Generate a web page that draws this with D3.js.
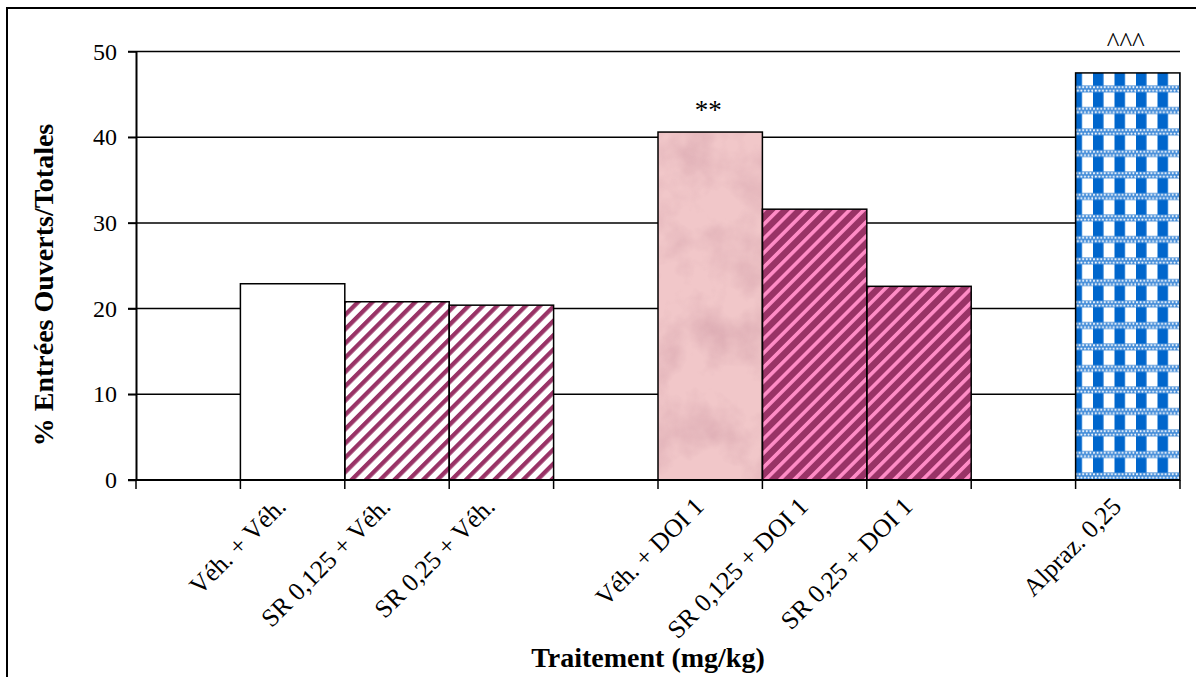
<!DOCTYPE html>
<html>
<head>
<meta charset="utf-8">
<script src="https://cdn.jsdelivr.net/npm/d3@7"></script>
<style>
  html, body { margin: 0; padding: 0; background: #fff; }
  svg { display: block; }
  text { font-family: "Liberation Serif", "Times New Roman", serif; fill: #000; }
</style>
</head>
<body>
<svg id="chart" width="1196" height="677"></svg>
<script>
// ---- data ----
const categories = ["", "Véh. + Véh.", "SR 0,125 + Véh.", "SR 0,25 + Véh.", "", "Véh. + DOI 1", "SR 0,125 + DOI 1", "SR 0,25 + DOI 1", "", "Alpraz. 0,25"];
const values = [null, 22.9, 20.8, 20.4, null, 40.6, 31.6, 22.6, null, 47.5];
const significance = ["", "", "", "", "", "**", "", "", "", "^^^"];
const yTicks = [0, 10, 20, 30, 40, 50];
const yTitle = "% Entrées Ouverts/Totales";
const xTitle = "Traitement (mg/kg)";

// ---- styles (by category index) ----
const fills = ["none", "#ffffff", "url(#hatchLight)", "url(#hatchLight)", "none", "#f1c7c9", "url(#hatchDark)", "url(#hatchDark)", "none", "url(#gingham)"];
const filters = [null, null, null, null, null, "url(#marble)", null, null, null, null];

const svg = d3.select("#chart");
const W = 1196, H = 677;

// frame
svg.append("rect").attr("x", 7).attr("y", 8).attr("width", W + 20).attr("height", H + 20)
  .attr("fill", "none").attr("stroke", "#000").attr("stroke-width", 2);

// ---- defs ----
const defs = svg.append("defs");
const P = 10.1;
// light hatch: white bg, plum stripes
const hl = defs.append("pattern").attr("id", "hatchLight").attr("patternUnits", "userSpaceOnUse")
  .attr("width", P).attr("height", P).attr("patternTransform", "rotate(45)");
hl.append("rect").attr("width", P).attr("height", P).attr("fill", "#ffffff");
hl.append("rect").attr("width", 4.3).attr("height", P).attr("fill", "#993366");
// dark hatch: plum bg, pink stripes
const hd = defs.append("pattern").attr("id", "hatchDark").attr("patternUnits", "userSpaceOnUse")
  .attr("width", P).attr("height", P).attr("patternTransform", "rotate(45)");
hd.append("rect").attr("width", P).attr("height", P).attr("fill", "#993366");
hd.append("rect").attr("width", 3.6).attr("height", P).attr("fill", "#ff8cc6");
// gingham
const T = 21.5;
const gg = defs.append("pattern").attr("id", "gingham").attr("patternUnits", "userSpaceOnUse")
  .attr("width", T).attr("height", T).attr("x", 1093).attr("y", 9);
gg.append("rect").attr("width", T).attr("height", T).attr("fill", "#ffffff");
gg.append("rect").attr("x", 0).attr("width", 10.5).attr("height", T).attr("fill", "#0066cc");
gg.append("rect").attr("x", 0).attr("y", 12).attr("width", T).attr("height", 7).attr("fill", "#3f8ad8");
for (let r = 0; r < 2; r++) {
  for (let c = 0; c < 6; c++) {
    gg.append("circle").attr("cx", c * (T / 6) + (r ? T / 12 : 0) + 1).attr("cy", 13.8 + r * 3.4)
      .attr("r", 1.05).attr("fill", "#ffffff");
  }
}
// marble filter
const mf = defs.append("filter").attr("id", "marble").attr("x", 0).attr("y", 0).attr("width", 1).attr("height", 1)
  .attr("color-interpolation-filters", "sRGB");
mf.append("feTurbulence").attr("type", "fractalNoise").attr("baseFrequency", "0.022").attr("numOctaves", 4).attr("seed", 11).attr("result", "noise");
mf.append("feColorMatrix").attr("in", "noise").attr("type", "matrix")
  .attr("values", "0 0 0 0 0.86  0 0 0 0 0.67  0 0 0 0 0.70  1.8 0 0 0 -0.75").attr("result", "spots");
mf.append("feComposite").attr("in", "spots").attr("in2", "SourceGraphic").attr("operator", "in").attr("result", "clipped");
const mm = mf.append("feMerge");
mm.append("feMergeNode").attr("in", "SourceGraphic");
mm.append("feMergeNode").attr("in", "clipped");

// ---- scales ----
const x = d3.scaleBand().domain(d3.range(categories.length)).range([136, 1180]).padding(0);
const y = d3.scaleLinear().domain([0, 50]).range([480, 51.5]);

// gridlines
svg.append("g").selectAll("line").data(yTicks.filter(t => t > 0)).join("line")
  .attr("x1", 128).attr("x2", 1180).attr("y1", d => y(d)).attr("y2", d => y(d))
  .attr("stroke", "#000").attr("stroke-width", 1.5);

// bars (fills)
const idx = d3.range(categories.length).filter(i => values[i] != null);
svg.append("g").selectAll("rect").data(idx).join("rect")
  .attr("x", i => x(i)).attr("width", x.bandwidth())
  .attr("y", i => y(values[i])).attr("height", i => y(0) - y(values[i]))
  .attr("fill", i => fills[i])
  .attr("filter", i => filters[i]);
// bar outlines
svg.append("g").selectAll("rect").data(idx).join("rect")
  .attr("x", i => x(i)).attr("width", x.bandwidth())
  .attr("y", i => y(values[i])).attr("height", i => y(0) - y(values[i]))
  .attr("fill", "none").attr("stroke", "#000").attr("stroke-width", 1.5);

// y axis
const yAxis = svg.append("g").attr("transform", "translate(136,0)")
  .call(d3.axisLeft(y).tickValues(yTicks).tickSize(8).tickPadding(11).tickSizeOuter(0));
yAxis.select(".domain").attr("stroke", "#000").attr("stroke-width", 2);
yAxis.selectAll(".tick line").attr("stroke", "#000").attr("stroke-width", 1.5);
yAxis.selectAll(".tick text").attr("font-family", "Liberation Serif").attr("font-size", 24).attr("fill", "#000");

// x axis line + boundary ticks
const bounds = d3.range(categories.length).map(i => x(i)).concat([x.range()[1]]);
const xg = svg.append("g");
xg.append("line").attr("x1", 128).attr("x2", 1180).attr("y1", y(0)).attr("y2", y(0))
  .attr("stroke", "#000").attr("stroke-width", 2);
xg.selectAll("line.tk").data(bounds).join("line").attr("class", "tk")
  .attr("x1", d => d).attr("x2", d => d).attr("y1", y(0)).attr("y2", y(0) + 9)
  .attr("stroke", "#000").attr("stroke-width", 1.5);

// category labels
xg.selectAll("text.cat").data(d3.range(categories.length).filter(i => categories[i])).join("text")
  .attr("class", "cat")
  .attr("transform", i => `translate(${x(i) + x.bandwidth() / 2 - 5},${y(0) + 28}) rotate(-45)`)
  .attr("text-anchor", "end").attr("font-size", 25.5)
  .text(i => categories[i]);

// significance labels
svg.append("g").selectAll("text").data(d3.range(categories.length).filter(i => significance[i])).join("text")
  .attr("x", i => x(i) + x.bandwidth() / 2 - 2)
  .attr("y", i => y(values[i]) - (significance[i] === "**" ? 13 : 22))
  .attr("text-anchor", "middle").attr("font-size", 27)
  .text(i => significance[i]);

// axis titles
svg.append("text").attr("transform", "translate(53,285) rotate(-90)")
  .attr("text-anchor", "middle").attr("font-weight", "bold").attr("font-size", 28).text(yTitle);
svg.append("text").attr("x", 648).attr("y", 667)
  .attr("text-anchor", "middle").attr("font-weight", "bold").attr("font-size", 28).text(xTitle);
</script>
</body>
</html>
